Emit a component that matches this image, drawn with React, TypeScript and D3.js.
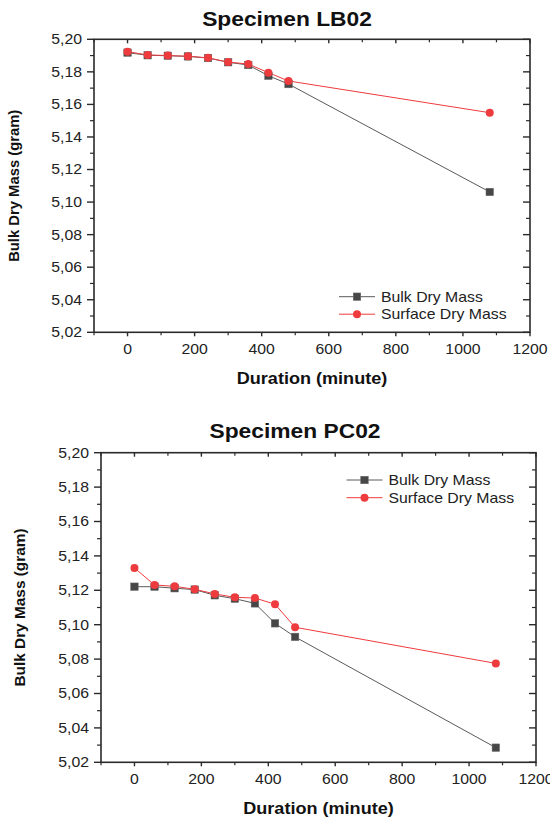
import React from 'react'
import * as d3 from 'd3'

// durations in minutes (same for both specimens)
const durations = [0, 60, 120, 180, 240, 300, 360, 420, 480, 1080]

// Specimen LB02
const lbBulk = [5.1918, 5.1902, 5.1899, 5.1895, 5.1885, 5.1859, 5.1842, 5.1776, 5.1725, 5.1062]
const lbSurface = [5.1924, 5.1904, 5.1900, 5.1896, 5.1886, 5.1860, 5.1848, 5.1795, 5.1744, 5.1549]

// Specimen PC02
const pcBulk = [5.1221, 5.1221, 5.1212, 5.1204, 5.1171, 5.1151, 5.1124, 5.1008, 5.0929, 5.0285]
const pcSurface = [5.1330, 5.1231, 5.1223, 5.1206, 5.1179, 5.1159, 5.1155, 5.1119, 5.0985, 5.0775]

const xTicks = [0, 200, 400, 600, 800, 1000, 1200]
const xMinor = [-100, 100, 300, 500, 700, 900, 1100]
const yTicks = [5.02, 5.04, 5.06, 5.08, 5.1, 5.12, 5.14, 5.16, 5.18, 5.2]
const yMinor = [5.03, 5.05, 5.07, 5.09, 5.11, 5.13, 5.15, 5.17, 5.19]

const seriesNames = ['Bulk Dry Mass', 'Surface Dry Mass']

const FONT = 'Arial, "Liberation Sans", sans-serif'
const BULK_COLOR = '#474747'
const BULK_LINE = '#5a5a5a'
const SURF_COLOR = '#ee3b3e'
const AXIS = '#2a2a2a'
const STRETCH = 1.13 // the original text is a bit wider than plain Arial

const fmtY = (v) => d3.format('.2f')(v).replace('.', ',')

// text drawn with a slight horizontal stretch
const T = ({ x, y, sx = STRETCH, children, ...rest }) => (
  <text transform={`translate(${x},${y}) scale(${sx},1)`} fontFamily={FONT} {...rest}>
    {children}
  </text>
)

const Square = ({ x, y, s = 7.5 }) => (
  <rect x={x - s / 2} y={y - s / 2} width={s} height={s} fill={BULK_COLOR} stroke="#6a6a6a" strokeWidth={0.5} />
)
const Dot = ({ x, y, r = 4 }) => <circle cx={x} cy={y} r={r} fill={SURF_COLOR} />

const Panel = ({ title, titleX, titleY, left, right, top, bottom, bulk, surface, yLabelX, yLabelSize, legend }) => {
  const x = d3.scaleLinear().domain([-100, 1200]).range([left, right])
  const y = d3.scaleLinear().domain([5.02, 5.2]).range([bottom, top])

  const bulkPts = durations.map((d, i) => [x(d), y(bulk[i])])
  const surfPts = durations.map((d, i) => [x(d), y(surface[i])])
  const line = d3.line()

  const midX = (left + right) / 2
  const midY = (top + bottom) / 2

  return (
    <g>
      <T x={titleX} y={titleY} sx={1.14} textAnchor="middle" fontWeight="bold" fontSize={20} fill="#111">
        {title}
      </T>

      {/* frame */}
      <rect x={left} y={top} width={right - left} height={bottom - top} fill="none" stroke={AXIS} strokeWidth={1.6} />

      {/* left axis ticks (outward) */}
      {yTicks.map(t => (
        <line key={'yl' + t} x1={left - 7} x2={left} y1={y(t)} y2={y(t)} stroke={AXIS} strokeWidth={1.4} />
      ))}
      {yMinor.map(t => (
        <line key={'ylm' + t} x1={left - 4} x2={left} y1={y(t)} y2={y(t)} stroke={AXIS} strokeWidth={1.2} />
      ))}
      {/* right axis ticks (inward) */}
      {yTicks.map(t => (
        <line key={'yr' + t} x1={right - 7} x2={right} y1={y(t)} y2={y(t)} stroke={AXIS} strokeWidth={1.4} />
      ))}
      {yMinor.map(t => (
        <line key={'yrm' + t} x1={right - 4} x2={right} y1={y(t)} y2={y(t)} stroke={AXIS} strokeWidth={1.2} />
      ))}
      {/* bottom ticks (outward) and top ticks (inward) */}
      {xTicks.map(t => (
        <g key={'xt' + t}>
          <line x1={x(t)} x2={x(t)} y1={bottom} y2={bottom + 4} stroke={AXIS} strokeWidth={1.4} />
          <line x1={x(t)} x2={x(t)} y1={top} y2={top + 4} stroke={AXIS} strokeWidth={1.4} />
        </g>
      ))}
      {xMinor.map(t => (
        <g key={'xm' + t}>
          <line x1={x(t)} x2={x(t)} y1={bottom} y2={bottom + 3} stroke={AXIS} strokeWidth={1.2} />
          <line x1={x(t)} x2={x(t)} y1={top} y2={top + 3} stroke={AXIS} strokeWidth={1.2} />
        </g>
      ))}

      {/* tick labels */}
      {yTicks.map(t => (
        <T key={'ylb' + t} x={left - 12} y={y(t)} dy="0.35em" textAnchor="end" fontSize={14} fill="#222">
          {fmtY(t)}
        </T>
      ))}
      {xTicks.map(t => (
        <T key={'xlb' + t} x={x(t)} y={bottom + 22} textAnchor="middle" fontSize={14} fill="#222">
          {t}
        </T>
      ))}

      {/* axis titles */}
      <T x={midX} y={bottom + 52} textAnchor="middle" fontWeight="bold" fontSize={16} fill="#111">
        Duration (minute)
      </T>
      <text
        transform={`translate(${yLabelX},${midY}) rotate(-90)`}
        textAnchor="middle"
        dy="0.35em"
        fontFamily={FONT}
        fontWeight="bold"
        fontSize={yLabelSize}
        fill="#111"
      >
        Bulk Dry Mass (gram)
      </text>

      {/* series */}
      <path d={line(bulkPts)} fill="none" stroke={BULK_LINE} strokeWidth={1} />
      <path d={line(surfPts)} fill="none" stroke={SURF_COLOR} strokeWidth={1} />
      {bulkPts.map((p, i) => <Square key={'b' + i} x={p[0]} y={p[1]} />)}
      {surfPts.map((p, i) => <Dot key={'s' + i} x={p[0]} y={p[1]} />)}

      {/* legend */}
      {seriesNames.map((name, i) => {
        const ly = legend.y + i * legend.gap
        return (
          <g key={name}>
            <line x1={legend.x} x2={legend.x + 36} y1={ly} y2={ly} stroke={i === 0 ? BULK_LINE : SURF_COLOR} strokeWidth={1} />
            {i === 0 ? <Square x={legend.x + 18} y={ly} /> : <Dot x={legend.x + 18} y={ly} />}
            <T x={legend.x + 42} y={ly} dy="0.35em" fontSize={14} fill="#222">
              {name}
            </T>
          </g>
        )
      })}
    </g>
  )
}

export default function App() {
  return (
    <svg width={550} height={823} style={{ position: 'absolute', left: 0, top: 0, background: '#fff' }}>
      <rect width={550} height={823} fill="#fff" />
      <Panel
        title="Specimen LB02"
        titleX={287}
        titleY={26}
        left={94}
        right={530}
        top={39.3}
        bottom={332.3}
        bulk={lbBulk}
        surface={lbSurface}
        yLabelX={14}
        yLabelSize={14.8}
        legend={{ x: 339, y: 296.7, gap: 17.5 }}
      />
      <Panel
        title="Specimen PC02"
        titleX={295}
        titleY={438}
        left={101}
        right={536}
        top={452.7}
        bottom={762.3}
        bulk={pcBulk}
        surface={pcSurface}
        yLabelX={20}
        yLabelSize={15.4}
        legend={{ x: 346.5, y: 480, gap: 17.7 }}
      />
    </svg>
  )
}
